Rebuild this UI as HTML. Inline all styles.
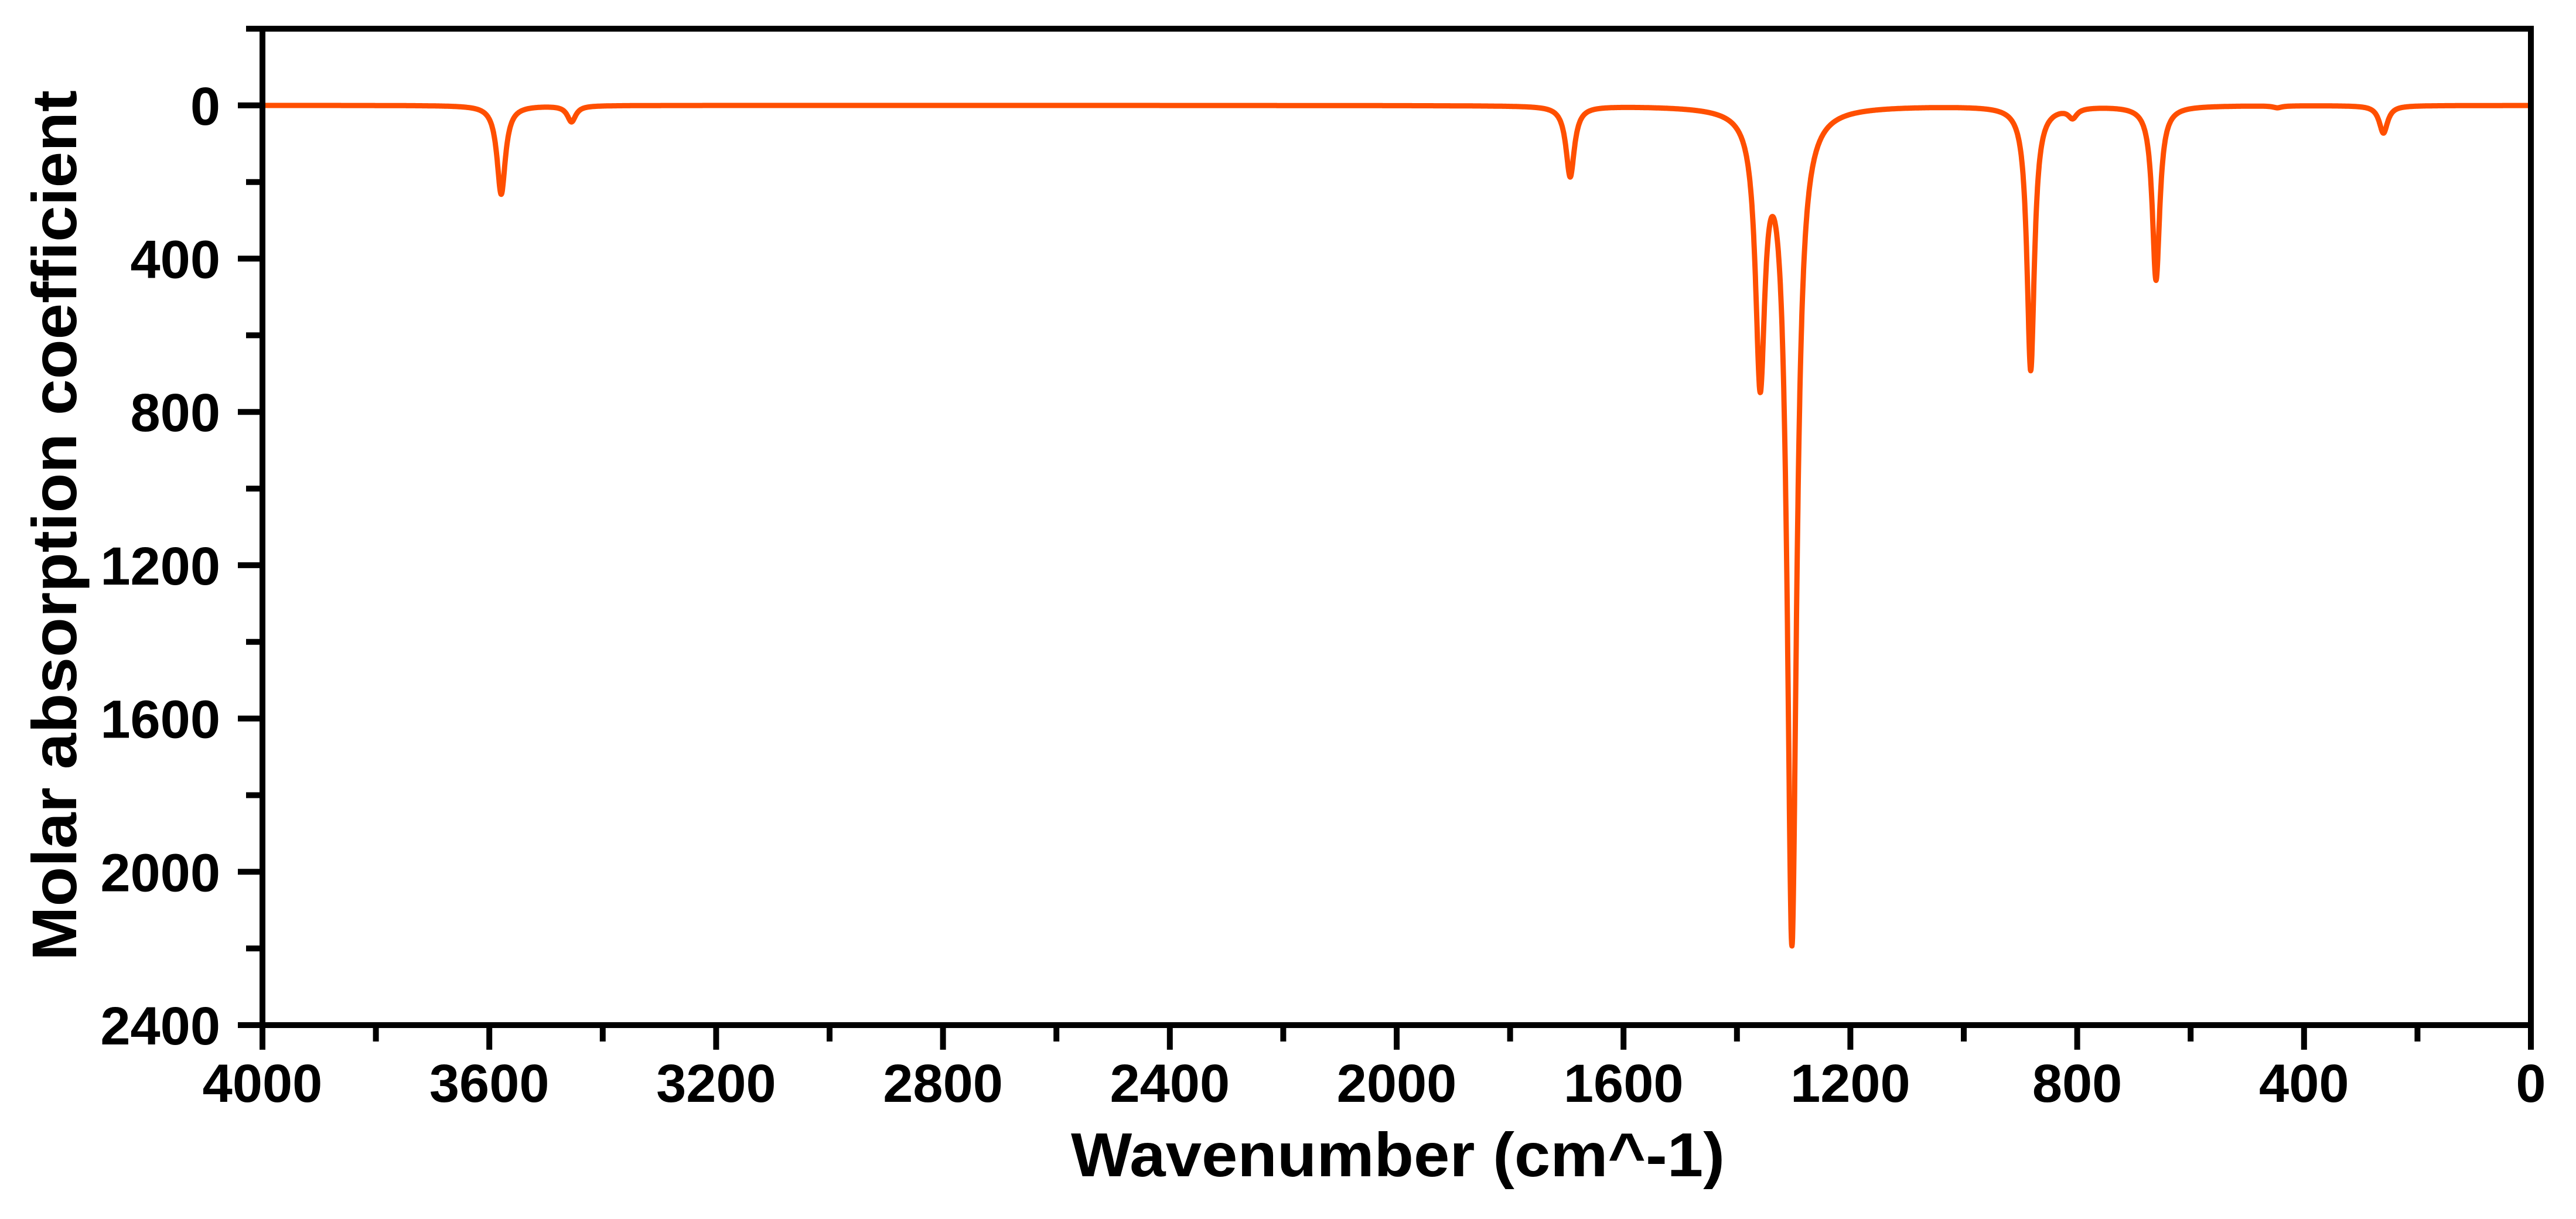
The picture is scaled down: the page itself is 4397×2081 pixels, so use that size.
<!DOCTYPE html>
<html>
<head>
<meta charset="utf-8">
<style>
html,body{margin:0;padding:0;background:#fff;}
svg{display:block;}
text{font-family:"Liberation Sans",Arial,sans-serif;font-weight:bold;fill:#000;}
</style>
</head>
<body>
<svg id="chart" width="4397" height="2081" viewBox="0 0 4397 2081" xmlns="http://www.w3.org/2000/svg">
  <g id="ticks"></g>
  <g id="plot"></g>
  <rect x="448" y="49" width="3872" height="1701" fill="none" stroke="#000" stroke-width="10"/>
  <text x="2386" y="2008" font-size="106" text-anchor="middle" textLength="1116" lengthAdjust="spacingAndGlyphs">Wavenumber (cm^-1)</text>
  <text transform="translate(130,897) rotate(-90)" font-size="108" text-anchor="middle" textLength="1486" lengthAdjust="spacingAndGlyphs">Molar absorption coefficient</text>
</svg>
<script>
const peakCenters = [3579, 3455, 1694, 1359, 1303, 882, 808, 661, 447, 260];
const peakHeights = [232, 42, 185, 682, 2172, 690, 25, 455, 5, 72];
const peakWidths = [9, 9, 9, 10, 10, 8, 9, 8, 9, 9];
const xTickLabels = [4000, 3600, 3200, 2800, 2400, 2000, 1600, 1200, 800, 400, 0];
const yTickLabels = [0, 400, 800, 1200, 1600, 2000, 2400];

const X0 = 448, X1 = 4320, Y0 = 49, Y1 = 1750;
const xMin = 4000, xMax = 0, yMin = -200, yMax = 2400;
function xs(w){ return X0 + (w - xMin) / (xMax - xMin) * (X1 - X0); }
function ys(v){ return Y0 + (v - yMin) / (yMax - yMin) * (Y1 - Y0); }

const NS = "http://www.w3.org/2000/svg";
const ticks = document.getElementById('ticks');
const plot = document.getElementById('plot');

function line(x1,y1,x2,y2,name){
  const l = document.createElementNS(NS,'line');
  l.setAttribute('x1',x1); l.setAttribute('y1',y1);
  l.setAttribute('x2',x2); l.setAttribute('y2',y2);
  l.setAttribute('stroke','#000'); l.setAttribute('stroke-width','10');
  
  
  ticks.appendChild(l);
}

for (let w = 0; w <= 4000; w += 200) {
  const major = w % 400 === 0;
  line(xs(w), Y1, xs(w), Y1 + (major ? 42 : 28), major ? 'x-major-tick' : 'x-minor-tick');
}
xTickLabels.forEach(w => {
  const t = document.createElementNS(NS,'text');
  t.setAttribute('x', xs(w)); t.setAttribute('y', 1881);
  t.setAttribute('font-size','92'); t.setAttribute('text-anchor','middle');
  t.textContent = w;
  
  
  ticks.appendChild(t);
});
for (let v = -200; v <= 2400; v += 200) {
  const major = v % 400 === 0;
  line(X0, ys(v), X0 - (major ? 42 : 28), ys(v), major ? 'y-major-tick' : 'y-minor-tick');
}
yTickLabels.forEach(v => {
  const t = document.createElementNS(NS,'text');
  t.setAttribute('x', 376); t.setAttribute('y', ys(v) + 33);
  t.setAttribute('font-size','92'); t.setAttribute('text-anchor','end');
  t.textContent = v;
  
  
  ticks.appendChild(t);
});

function spectrum(w){
  let s = 0;
  for (let i = 0; i < peakCenters.length; i++) {
    const g = peakWidths[i], d = w - peakCenters[i];
    s += peakHeights[i] * g * g / (g * g + d * d);
  }
  return s;
}
const pts = [];
for (let w = 4000; w >= 0; w -= 0.5) {
  pts.push(xs(w).toFixed(1) + ',' + ys(spectrum(w)).toFixed(1));
}
const pl = document.createElementNS(NS,'polyline');
pl.setAttribute('points', pts.join(' '));
pl.setAttribute('fill','none');
pl.setAttribute('stroke','#ff4f00');
pl.setAttribute('stroke-width','9');
pl.setAttribute('stroke-linejoin','round');


plot.appendChild(pl);
</script>
</body>
</html>
